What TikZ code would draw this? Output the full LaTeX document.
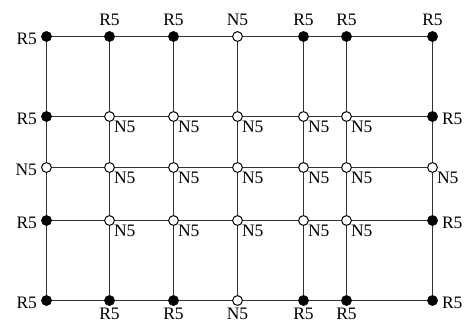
\documentclass[tikz,border=0pt]{standalone}
\usepackage{fontspec}
\setmainfont{Liberation Serif}
\usetikzlibrary{positioning}
\definecolor{ln}{HTML}{333333}
\tikzset{
  rdot/.style={circle, fill=black, draw=black, line width=0.4pt, minimum size=10.3pt, inner sep=0pt},
  ndot/.style={circle, fill=white, draw=black, line width=1pt, minimum size=9.8pt, inner sep=0pt},
  lbl/.style={font=\fontsize{17.5}{18}\selectfont, inner sep=0.5pt},
  labove/.style={label={[lbl,label distance=4.5pt]above:#1}},
  lbelow/.style={label={[lbl,label distance=1.5pt]below:#1}},
  lleft/.style={label={[lbl,label distance=3.5pt,yshift=-2pt]left:#1}},
  lright/.style={label={[lbl,label distance=3.5pt,yshift=-2pt]right:#1}},
  lcorner/.style={label={[lbl]below right:#1}},
  gridline/.style={draw=ln, line width=1.2pt}
}

\begin{document}
\begin{tikzpicture}[x=1pt, y=-1pt]
  \useasboundingbox (0,0) rectangle (465,323);

  % top row
  \node[rdot, lleft=R5]  (n11) at (46.5,36.5) {};
  \node[rdot, labove=R5] (n12) at (109.5,36.5) {};
  \node[rdot, labove=R5] (n13) at (173.5,36.5) {};
  \node[ndot, labove=N5] (n14) at (237.5,36.5) {};
  \node[rdot, labove=R5] (n15) at (303.5,36.5) {};
  \node[rdot, labove=R5] (n16) at (346.5,36.5) {};
  \node[rdot, labove=R5] (n17) at (432.5,36.5) {};

  % left and right columns
  \node[rdot, lleft=R5]   (n21) at (46.5,116.5) {};
  \node[rdot, lright=R5]  (n27) at (432.5,116.5) {};
  \node[ndot, lleft=N5]   (n31) at (46.5,167.5) {};
  \node[ndot, lcorner=N5] (n37) at (432.5,167.5) {};
  \node[rdot, lleft=R5]   (n41) at (46.5,220.5) {};
  \node[rdot, lright=R5]  (n47) at (432.5,220.5) {};

  % inner nodes
  \foreach \x [count=\c from 2] in {109.5,173.5,237.5,303.5,346.5}
    \foreach \y [count=\r from 2] in {116.5,167.5,220.5}
      \node[ndot, lcorner=N5] (n\r\c) at (\x,\y) {};

  % bottom row
  \node[rdot, lleft=R5]  (n51) at (46.5,300.5) {};
  \node[rdot, lbelow=R5] (n52) at (109.5,300.5) {};
  \node[rdot, lbelow=R5] (n53) at (173.5,300.5) {};
  \node[ndot, lbelow=N5] (n54) at (237.5,300.5) {};
  \node[rdot, lbelow=R5] (n55) at (303.5,300.5) {};
  \node[rdot, lbelow=R5] (n56) at (346.5,300.5) {};
  \node[rdot, lright=R5] (n57) at (432.5,300.5) {};

  % grid lines
  \foreach \r in {1,...,5}
    \foreach \c [remember=\c as \p (initially 1)] in {2,...,7}
      \draw[gridline] (n\r\p) -- (n\r\c);
  \foreach \c in {1,...,7}
    \foreach \r [remember=\r as \p (initially 1)] in {2,...,5}
      \draw[gridline] (n\p\c) -- (n\r\c);
\end{tikzpicture}
\end{document}
